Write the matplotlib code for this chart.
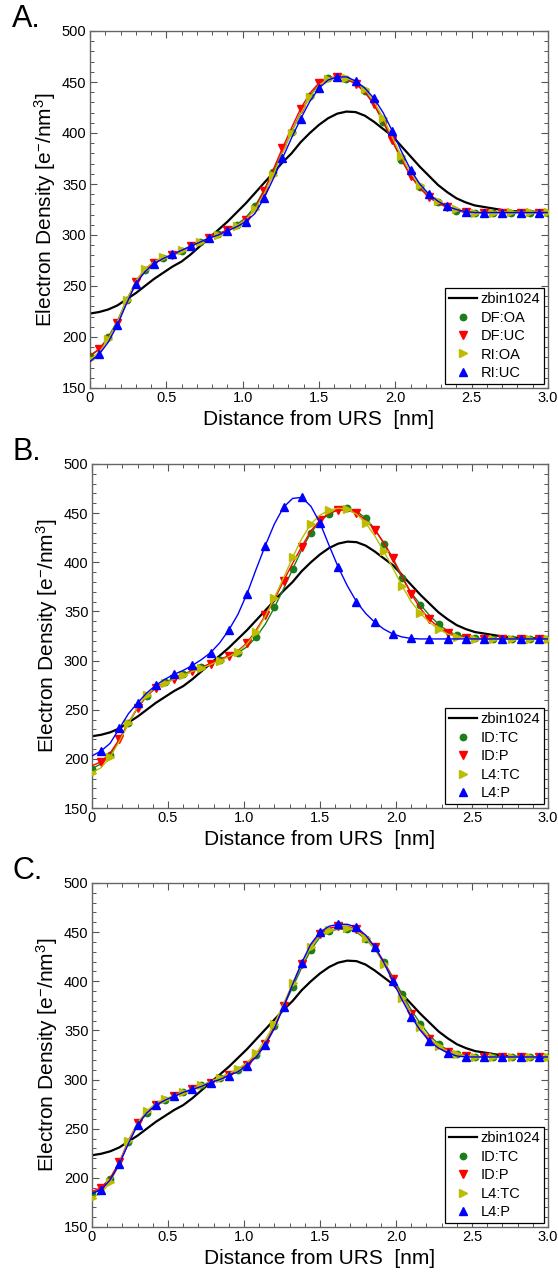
"""Electron density profiles vs. distance from URS (three panels)."""

import matplotlib
matplotlib.use("Agg")
import matplotlib.pyplot as plt
from matplotlib.lines import Line2D
from matplotlib.ticker import MultipleLocator, FuncFormatter

plt.rcParams["font.family"] = ["Liberation Sans", "DejaVu Sans"]
plt.rcParams["mathtext.fontset"] = "custom"
plt.rcParams["mathtext.rm"] = "Liberation Sans"
plt.rcParams["mathtext.it"] = "Liberation Sans:italic"

# sampling grid [nm]
distance = [0.00, 0.06, 0.12, 0.18, 0.24, 0.30, 0.36, 0.42, 0.48, 0.54,
            0.60, 0.66, 0.72, 0.78, 0.84, 0.90, 0.96, 1.02, 1.08, 1.14,
            1.20, 1.26, 1.32, 1.38, 1.44, 1.50, 1.56, 1.62, 1.68, 1.74,
            1.80, 1.86, 1.92, 1.98, 2.04, 2.10, 2.16, 2.22, 2.28, 2.34,
            2.40, 2.46, 2.52, 2.58, 2.64, 2.70, 2.76, 2.82, 2.88, 2.94, 3.00]

# reference profile, same in all panels
zbin1024 = [223, 224.5, 227, 231, 237, 243, 250, 257, 263, 269,
            274, 281, 289, 297, 305, 313, 322, 331, 341, 351,
            361, 371, 380, 391, 400, 408, 414.5, 419, 421, 420.5,
            417, 411, 404, 397, 387, 377, 367, 358, 349, 342,
            336, 332, 329, 327.5, 326, 324.5, 323.5, 323, 323, 322.5, 322]

# panel A
a_df_oa = [181, 188, 200, 216, 236, 254, 266, 273, 277, 280,
           284, 289, 293, 297, 301, 305, 310, 317, 328, 344,
           362, 381, 401, 420, 436, 448, 453.5, 455, 453, 449,
           441, 428, 411, 392, 374, 358, 347, 338, 332, 327,
           324, 322, 321.5, 321.5, 322, 322, 322, 322, 322, 322, 322]
a_df_uc = [182, 188, 199, 214, 234, 254, 266, 273, 277, 280,
           285, 289, 293, 297, 301, 305, 309, 315, 326, 343,
           364, 385, 405, 424, 439, 449, 454, 455, 453, 448,
           440, 428, 412, 393, 374, 358, 346, 337, 331, 327,
           324, 322.5, 322, 322, 322, 322, 322, 322, 322, 322, 322]
a_ri_oa = [178, 185, 198, 215, 236, 255, 267, 274, 278, 281,
           285, 289, 293, 297, 300, 304, 309, 315, 325, 340,
           359, 380, 400, 419, 435, 447, 453, 455, 454, 450,
           443, 431, 415, 396, 377, 361, 349, 339, 333, 328,
           325, 323, 322, 322, 322, 322.5, 322.5, 322.5, 322.5, 322.5, 322.5]
a_ri_uc = [176, 183, 195, 212, 233, 252, 264, 272, 277, 281,
           285, 289, 293, 297, 300, 304, 308, 313, 321, 336,
           355, 375, 395, 414, 431, 444, 452, 455, 455, 451,
           444, 434, 420, 402, 382, 364, 350, 340, 333, 328,
           325, 323, 322, 322, 322, 322, 322, 322, 322, 322, 322]

# panel B
b_id_tc = [190, 195, 204, 219, 236, 252, 264, 273, 278, 282,
           286, 290, 293, 297, 301, 304, 308, 314, 324, 337,
           354, 373, 393, 413, 430, 442, 449, 454, 455, 452,
           445, 434, 419, 402, 384, 369, 357, 346, 337, 330,
           326, 324, 323, 322, 322, 322, 322, 322, 322, 322, 322]
b_id_p = [193, 197, 206, 220, 237, 252, 264, 272, 277, 281,
          285, 289, 293, 297, 301, 305, 310, 318, 331, 346,
          362, 381, 399, 416, 432, 443, 450, 453, 453, 450,
          443, 433, 420, 404, 386, 368, 353, 342, 334, 328,
          325, 323, 322, 322, 322, 322, 322, 322, 322, 322, 322]
b_l4_tc = [186, 191, 202, 218, 236, 253, 265, 273, 277, 281,
           285, 289, 292, 296, 300, 304, 309, 317, 329, 345,
           364, 384, 405, 424, 439, 448, 453, 455, 454, 449,
           440, 427, 411, 394, 376, 360, 348, 339, 332, 327,
           324, 323, 322, 322, 322, 322, 322, 322, 322, 322, 322]
b_l4_p = [203, 208, 216, 231, 246, 257, 267, 275, 281, 286,
          290, 295, 301, 308, 318, 331, 347, 368, 393, 417,
          439, 456, 465, 466, 457, 440, 417, 395, 376, 360,
          348, 339, 332, 327, 324, 322.5, 322, 322, 322, 322,
          322, 322, 322, 322, 322, 322, 322, 322, 322, 322, 322]

# panel C
c_id_tc = [184, 189, 199, 215, 236, 254, 266, 274, 279, 283,
           287, 290, 294, 298, 302, 306, 310, 316, 325, 337,
           354, 374, 394, 414, 432, 445, 451, 453, 453, 450,
           443, 433, 420, 404, 387, 371, 357, 345, 336, 330,
           326, 324, 323, 323, 323, 323, 323, 323, 323, 323, 323]
c_id_p = [186, 190, 200, 216, 238, 256, 267, 274, 279, 283,
          287, 290, 293, 297, 301, 305, 309, 315, 325, 336,
          353, 375, 397, 418, 436, 448, 454, 456, 456, 453,
          446, 435, 420, 402, 384, 367, 352, 341, 333, 328,
          325, 324, 323, 323, 323, 323, 323, 323, 323, 323, 323]
c_l4_tc = [180, 184, 196, 214, 237, 256, 268, 276, 280, 284,
           287, 291, 294, 298, 302, 306, 311, 317, 327, 340,
           357, 377, 398, 418, 435, 447, 452, 454, 454, 451,
           444, 433, 418, 401, 383, 367, 353, 342, 334, 329,
           326, 324, 323, 323, 323, 323, 323, 323, 323, 323, 323]
c_l4_p = [184, 188, 198, 214, 235, 254, 266, 274, 279, 283,
          287, 290, 293, 297, 300, 304, 308, 314, 323, 335,
          352, 374, 397, 419, 438, 450, 456, 458, 458, 455,
          447, 435, 419, 400, 381, 364, 350, 339, 332, 327,
          324, 323, 323, 323, 323, 323, 323, 323, 323, 323, 323]

labels_a = ["DF:OA", "DF:UC", "RI:OA", "RI:UC"]
labels_bc = ["ID:TC", "ID:P", "L4:TC", "L4:P"]

STYLES = [
    ("#1b7d1b", "o", 4.6, (0, 2)),
    ("#ff0000", "v", 5.2, (1, 2)),
    ("#bcbc00", ">", 5.2, (0, 2)),
    ("#0000ff", "^", 5.2, (1, 2)),
]


def _x_fmt(v, _pos):
    return "0" if abs(v) < 1e-9 else f"{v:.1f}"


def draw_panel(ax, series, labels):
    ax.plot(distance, zbin1024, color="black", lw=1.6, zorder=2)
    handles = [Line2D([], [], color="black", lw=1.6)]
    for values, (color, marker, ms, every) in zip(series, STYLES):
        ax.plot(distance, values, color=color, lw=1.0, marker=marker, ms=ms,
                mec=color, mfc=color, markevery=every, zorder=3)
        handles.append(Line2D([], [], ls="none", marker=marker, ms=ms,
                              color=color, mec=color))
    ax.set_xlim(0, 3.0)
    ax.set_ylim(150, 500)
    ax.xaxis.set_major_locator(MultipleLocator(0.5))
    ax.xaxis.set_minor_locator(MultipleLocator(0.1))
    ax.yaxis.set_major_locator(MultipleLocator(50))
    ax.yaxis.set_minor_locator(MultipleLocator(10))
    ax.xaxis.set_major_formatter(FuncFormatter(_x_fmt))
    ax.tick_params(which="both", direction="in", top=True, right=True,
                   color="#555555", labelsize=10.5, pad=2.5)
    ax.tick_params(which="major", length=5, width=0.8)
    ax.tick_params(which="minor", length=3, width=0.7)
    for sp in ax.spines.values():
        sp.set_color("#666666")
        sp.set_linewidth(1.0)
    ax.set_xlabel("Distance from URS  [nm]", fontsize=15, labelpad=3)
    ax.set_ylabel("Electron Density [e$^{-}$/nm$^{3}$]", fontsize=15, labelpad=3)
    leg = ax.legend(handles, ["zbin1024"] + labels, loc="lower right",
                    fontsize=10.5, frameon=True, fancybox=False, framealpha=1,
                    edgecolor="black", handlelength=1.9, handletextpad=0.25,
                    labelspacing=0.3, borderpad=0.3, borderaxespad=0.25)
    leg.get_frame().set_linewidth(0.9)


fig = plt.figure(figsize=(5.58, 12.76), dpi=100)
W, H = 558.0, 1276.0

panels = [
    ("A.", (90, 31, 548, 388), [a_df_oa, a_df_uc, a_ri_oa, a_ri_uc], labels_a),
    ("B.", (92, 464, 548, 808), [b_id_tc, b_id_p, b_l4_tc, b_l4_p], labels_bc),
    ("C.", (92, 883, 548, 1227), [c_id_tc, c_id_p, c_l4_tc, c_l4_p], labels_bc),
]

for letter, (x0, y0, x1, y1), series, labels in panels:
    ax = fig.add_axes([x0 / W, 1 - y1 / H, (x1 - x0) / W, (y1 - y0) / H])
    draw_panel(ax, series, labels)
    fig.text(12 / W, 1 - (y0 - 12) / H, letter, fontsize=22, ha="left", va="center")

fig.savefig("out.png", dpi=100)
plt.close(fig)
